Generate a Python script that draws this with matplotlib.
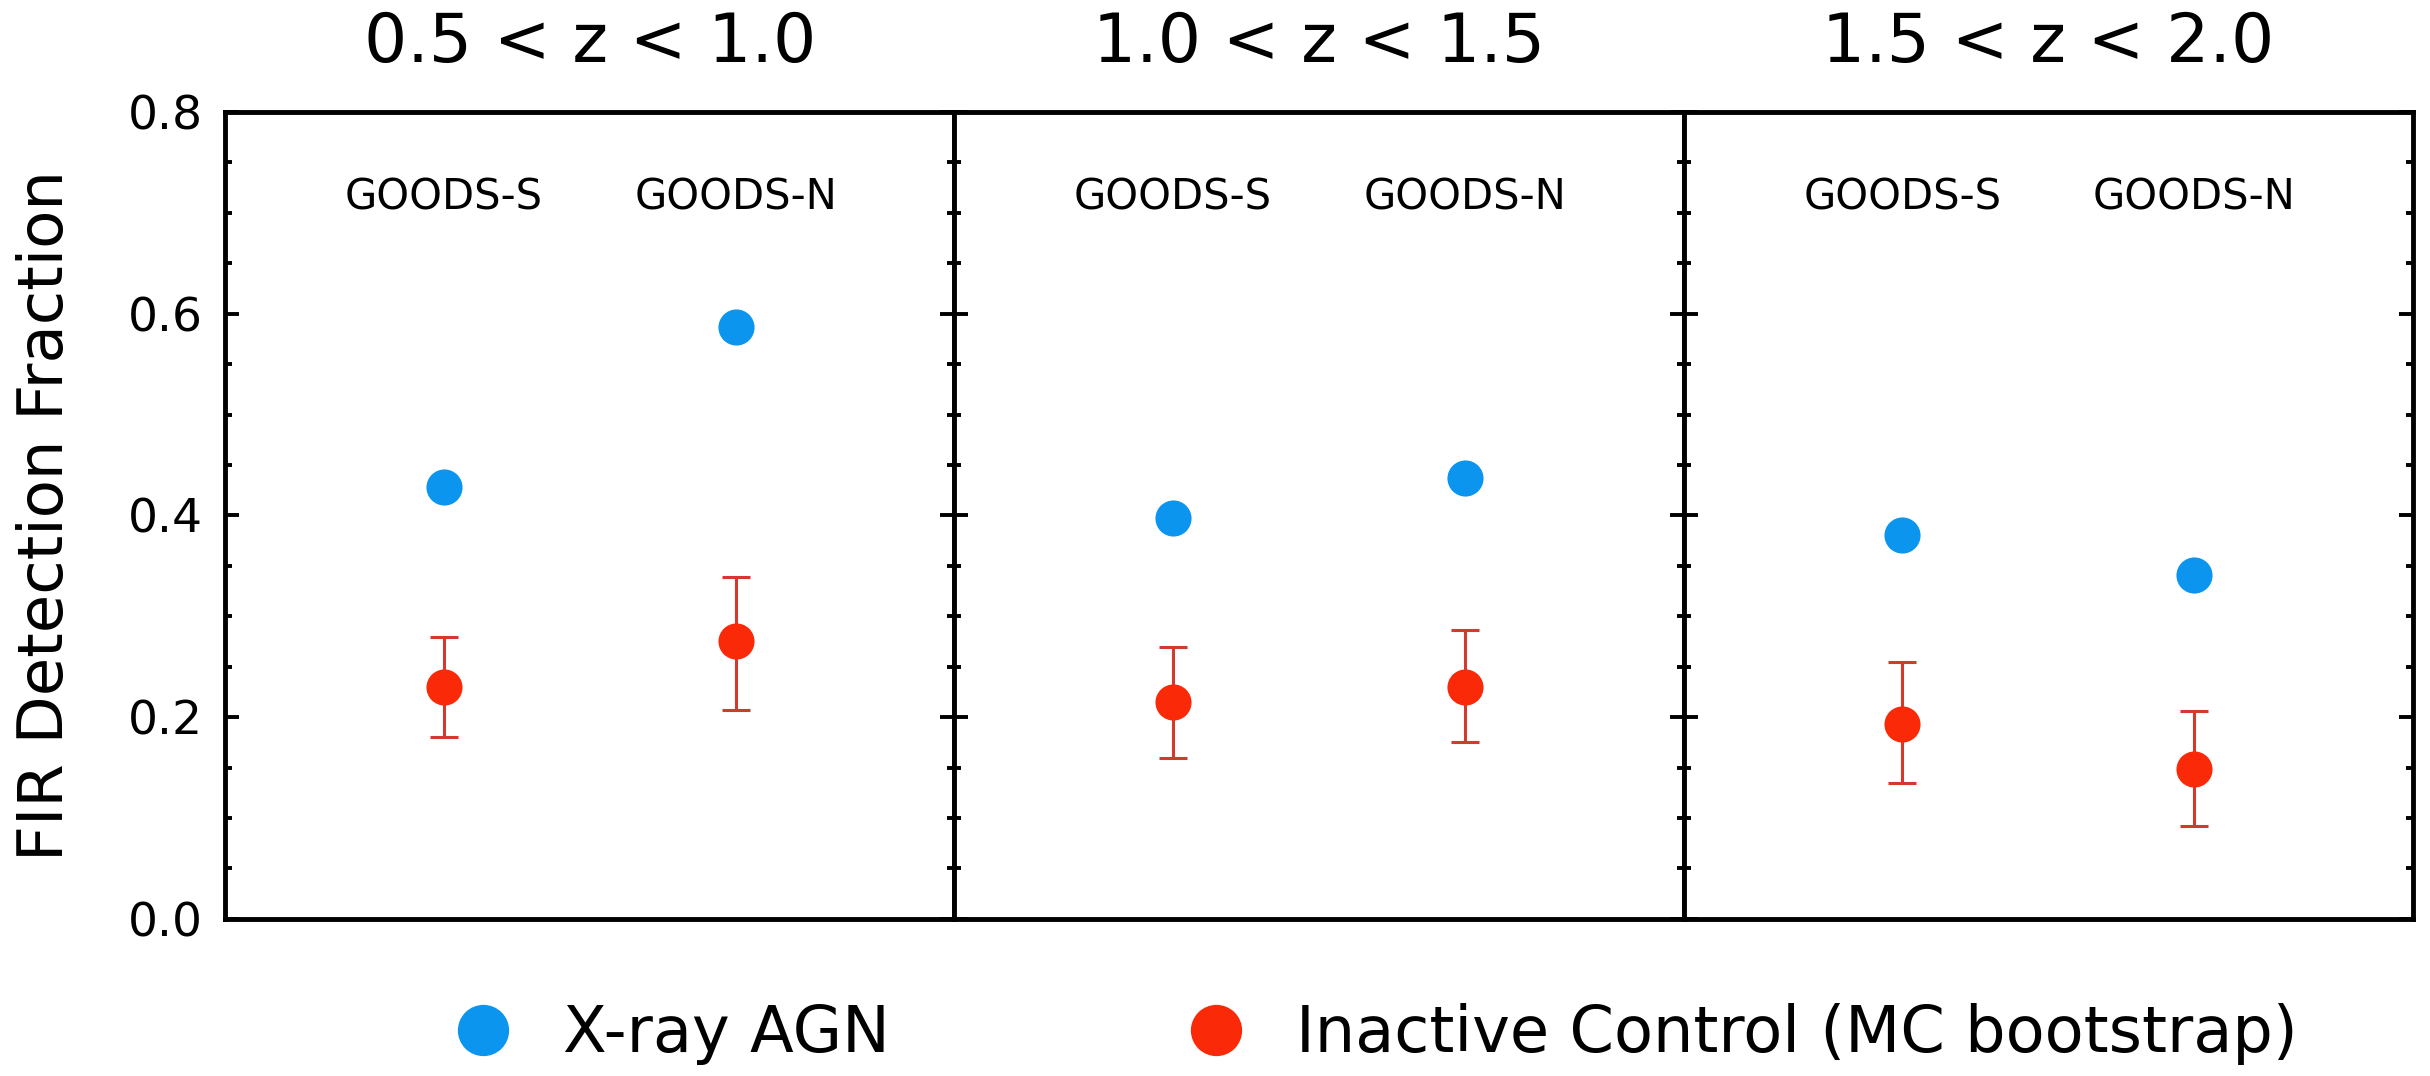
import matplotlib.pyplot as plt
from matplotlib.ticker import MultipleLocator, FormatStrFormatter

# redshift bins and fields
bins = ["0.5 < z < 1.0", "1.0 < z < 1.5", "1.5 < z < 2.0"]
fields = ["GOODS-S", "GOODS-N"]
field_x = [0.30, 0.70]

# FIR detection fractions, one row per redshift bin (S, N)
agn_frac = [[0.428, 0.587], [0.397, 0.437], [0.381, 0.341]]
ctrl_frac = [[0.230, 0.275], [0.215, 0.230], [0.193, 0.149]]
ctrl_hi = [[0.279, 0.339], [0.270, 0.286], [0.255, 0.206]]
ctrl_lo = [[0.180, 0.207], [0.160, 0.175], [0.135, 0.092]]

BLUE = "#0b95ee"
RED = "#fa2a08"
ERR = "#d23a2e"

fig = plt.figure(figsize=(24.3, 10.76), dpi=100)
axes = fig.subplots(1, 3, sharey=True)
fig.subplots_adjust(left=0.0926, right=0.993, top=0.896, bottom=0.146, wspace=0)

for i, ax in enumerate(axes):
    lo = [c - l for c, l in zip(ctrl_frac[i], ctrl_lo[i])]
    hi = [h - c for c, h in zip(ctrl_frac[i], ctrl_hi[i])]
    ax.errorbar(field_x, ctrl_frac[i], yerr=[lo, hi], fmt="none", ecolor=ERR,
                elinewidth=2.2, capsize=10, capthick=2.2, zorder=2)
    ctrl_pts, = ax.plot(field_x, ctrl_frac[i], "o", color=RED, ms=26, mew=0, zorder=3)
    agn_pts, = ax.plot(field_x, agn_frac[i], "o", color=BLUE, ms=26, mew=0, zorder=3)

    for x, name in zip(field_x, fields):
        ax.text(x, 0.715, name, ha="center", va="center", fontsize=30)
    ax.text(0.5, 1.0855, bins[i], transform=ax.transAxes, ha="center",
            va="center", fontsize=49)

    ax.set_xlim(0, 1)
    ax.set_ylim(0, 0.8)
    ax.set_xticks([])
    ax.yaxis.set_major_locator(MultipleLocator(0.2))
    ax.yaxis.set_minor_locator(MultipleLocator(0.05))
    ax.tick_params(axis="y", which="both", direction="in", left=True, right=True,
                   width=2.8, labelsize=34, pad=16)
    ax.tick_params(axis="y", which="major", length=10)
    ax.tick_params(axis="y", which="minor", length=5)
    for s in ax.spines.values():
        s.set_linewidth(3.5)

axes[0].yaxis.set_major_formatter(FormatStrFormatter("%.1f"))

fig.text(0.019, 0.521, "FIR Detection Fraction", rotation=90, ha="center",
         va="center", fontsize=45)

legend_kw = dict(loc="center left", frameon=False, fontsize=46, markerscale=1.42,
                 handlelength=1.0, handletextpad=0.75, borderpad=0, borderaxespad=0)
fig.legend(handles=[agn_pts], labels=["X-ray AGN"],
           bbox_to_anchor=(0.1856, 0.039), **legend_kw)
fig.legend(handles=[ctrl_pts], labels=["Inactive Control (MC bootstrap)"],
           bbox_to_anchor=(0.4872, 0.039), **legend_kw)

fig.savefig("out.png", dpi=100)
